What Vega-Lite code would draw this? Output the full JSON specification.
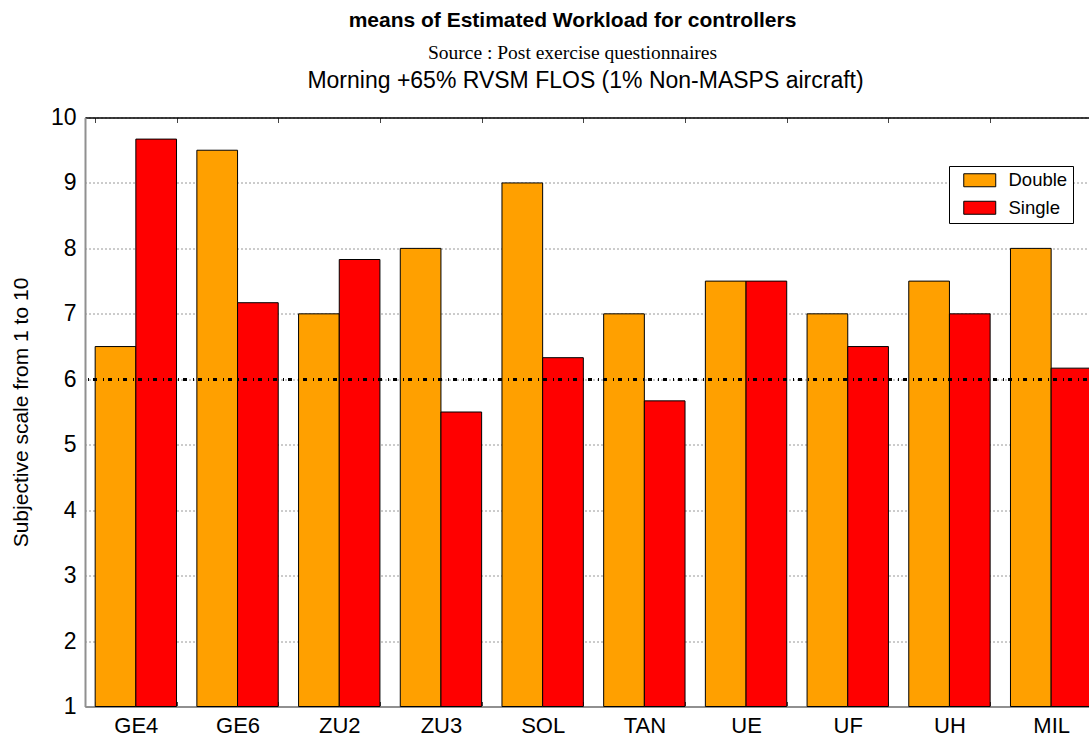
{
  "$schema": "https://vega.github.io/schema/vega-lite/v6.json",
  "width": 1017,
  "height": 589,
  "autosize": "none",
  "padding": {"left": 85, "top": 117.5, "right": 0, "bottom": 32},
  "background": "white",
  "config": {"view": {"stroke": null}},
  "title": {
    "text": "means of Estimated Workload for controllers",
    "subtitle": "Source : Post exercise questionnaires",
    "font": "Liberation Sans",
    "fontSize": 21,
    "fontWeight": "bold",
    "color": "black",
    "subtitleFont": "Liberation Serif",
    "subtitleFontSize": 19.5,
    "subtitleColor": "black",
    "subtitlePadding": 13,
    "anchor": "middle",
    "dx": -21,
    "offset": 7
  },
  "data": {
    "values": [
      {"cat": "GE4", "type": "Double", "value": 6.5},
      {"cat": "GE4", "type": "Single", "value": 9.67},
      {"cat": "GE6", "type": "Double", "value": 9.5},
      {"cat": "GE6", "type": "Single", "value": 7.17},
      {"cat": "ZU2", "type": "Double", "value": 7.0},
      {"cat": "ZU2", "type": "Single", "value": 7.83},
      {"cat": "ZU3", "type": "Double", "value": 8.0},
      {"cat": "ZU3", "type": "Single", "value": 5.5},
      {"cat": "SOL", "type": "Double", "value": 9.0},
      {"cat": "SOL", "type": "Single", "value": 6.33},
      {"cat": "TAN", "type": "Double", "value": 7.0},
      {"cat": "TAN", "type": "Single", "value": 5.67},
      {"cat": "UE", "type": "Double", "value": 7.5},
      {"cat": "UE", "type": "Single", "value": 7.5},
      {"cat": "UF", "type": "Double", "value": 7.0},
      {"cat": "UF", "type": "Single", "value": 6.5},
      {"cat": "UH", "type": "Double", "value": 7.5},
      {"cat": "UH", "type": "Single", "value": 7.0},
      {"cat": "MIL", "type": "Double", "value": 8.0},
      {"cat": "MIL", "type": "Single", "value": 6.17}
    ]
  },
  "layer": [
    {
      "mark": {"type": "bar", "stroke": "black", "strokeWidth": 1},
      "encoding": {
        "x": {
          "field": "cat", "type": "nominal", "sort": null,
          "scale": {"paddingInner": 0.2, "paddingOuter": 0.1},
          "axis": {
            "orient": "bottom", "title": null, "labelAngle": 0,
            "labelFont": "Liberation Sans", "labelFontSize": 22, "labelColor": "black",
            "labelPadding": 14, "tickBand": "extent", "tickSize": -5, "tickColor": "#444",
            "domainColor": "#909090", "domainWidth": 2
          }
        },
        "xOffset": {"field": "type", "sort": ["Double", "Single"]},
        "y": {
          "field": "value", "type": "quantitative",
          "scale": {"domain": [1, 10], "zero": false, "nice": false},
          "axis": {
            "values": [1, 2, 3, 4, 5, 6, 7, 8, 9, 10], "format": "d",
            "grid": true, "gridDash": [1, 3], "gridColor": "#333", "gridOpacity": 1,
            "ticks": false, "labelPadding": 9,
            "labelFont": "Liberation Sans", "labelFontSize": 23, "labelColor": "black",
            "domainColor": "#909090", "domainWidth": 2,
            "title": "Subjective scale from 1 to 10",
            "titleFont": "Liberation Sans", "titleFontSize": 21, "titleFontWeight": "normal",
            "titleColor": "black", "titlePadding": 19
          }
        },
        "y2": {"datum": 1},
        "color": {
          "field": "type", "type": "nominal",
          "scale": {"domain": ["Double", "Single"], "range": ["#FFA000", "#FF0000"]},
          "legend": {
            "orient": "none", "legendX": 864, "legendY": 48.5, "direction": "vertical",
            "title": null, "strokeColor": "black", "fillColor": "white", "padding": 5,
            "symbolType": "M-2.46,-1H2.46V1H-2.46Z", "symbolSize": 169,
            "symbolStrokeColor": "black", "symbolStrokeWidth": 1,
            "symbolOffset": 16.5, "labelOffset": 19.5, "rowPadding": 8.5,
            "labelFont": "Liberation Sans", "labelFontSize": 18.5, "labelColor": "black"
          }
        }
      }
    },
    {
      "mark": {"type": "rule", "color": "black", "strokeWidth": 2.5, "strokeDash": [4, 4, 1, 6]},
      "encoding": {"y": {"datum": 6}}
    },
    {
      "mark": {"type": "bar", "opacity": 0},
      "encoding": {
        "x": {
          "field": "cat", "type": "nominal", "sort": null,
          "axis": {
            "orient": "top", "labels": false, "tickBand": "extent", "tickSize": -5,
            "tickColor": "#444", "domainColor": "black", "domainWidth": 1.5,
            "title": "Morning +65% RVSM FLOS (1% Non-MASPS aircraft)",
            "titleFont": "Liberation Sans", "titleFontSize": 23, "titleFontWeight": "normal",
            "titleColor": "black", "titlePadding": 25, "titleX": 500
          }
        }
      }
    }
  ],
  "resolve": {"axis": {"x": "independent"}}
}
